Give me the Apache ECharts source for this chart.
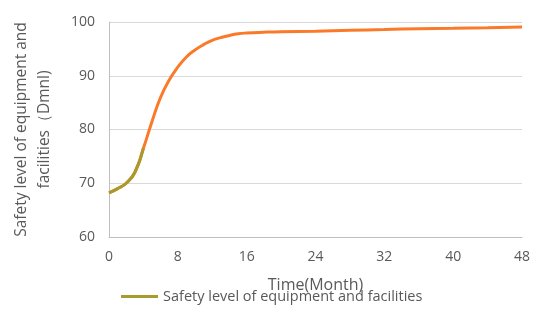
<!DOCTYPE html>
<html><head><meta charset="utf-8">
<script src="https://cdn.jsdelivr.net/npm/echarts@6/dist/echarts.min.js"></script>
<style>html,body{margin:0;padding:0;background:#fff}#c{width:550px;height:320px}</style>
</head><body><div id="c"></div>
<script>
var months = [0,1,2,3,4,5,6,7,8,9,10,11,12,13,14,15,16,18,20,24,28,32,36,40,44,48];
var safety = [68.2,69.0,70.0,72.0,76.5,81.5,86.0,89.2,91.6,93.5,94.8,95.8,96.6,97.1,97.5,97.8,97.95,98.1,98.2,98.3,98.45,98.6,98.75,98.85,98.95,99.05];
var earlyEnd = 4;
var seriesName = 'Safety level of equipment and facilities';
var yName = 'Safety level of equipment and\nfacilities（Dmnl)';
var xName = 'Time(Month)';

var full = months.map(function(m,i){return [m, safety[i]];});
var early = full.filter(function(p){return p[0] <= earlyEnd;});

var chart = echarts.init(document.getElementById('c'));
var font = "'Open Sans', 'Liberation Sans', sans-serif";
chart.setOption({
  animation:false,
  grid:{left:109,right:28,top:22,bottom:83},
  legend:{
    data:[seriesName], bottom:11, left:116, itemWidth:37, itemHeight:3, itemGap:4,
    icon:'rect',
    textStyle:{color:'#595959', fontSize:14.5, fontFamily:font}
  },
  xAxis:{
    type:'value', min:0, max:48, interval:8,
    name:xName, nameLocation:'middle', nameGap:40,
    nameTextStyle:{color:'#595959', fontSize:16, fontFamily:font},
    axisLine:{show:true, lineStyle:{color:'#bfbfbf'}},
    axisTick:{show:false},
    splitLine:{show:false},
    axisLabel:{color:'#595959', fontSize:14, margin:13, fontFamily:font}
  },
  yAxis:{
    type:'value', min:60, max:100, interval:10,
    name:yName, nameLocation:'middle', nameGap:53,
    nameTextStyle:{color:'#595959', fontSize:15.5, lineHeight:23, fontFamily:font},
    axisLine:{show:true, lineStyle:{color:'#bfbfbf'}},
    axisTick:{show:false},
    splitLine:{lineStyle:{color:'#d9d9d9'}},
    axisLabel:{color:'#595959', fontSize:14, margin:14, fontFamily:font}
  },
  series:[
    {name:'orange', type:'line', data:full, smooth:true, showSymbol:false,
     lineStyle:{color:'#FA7A2A', width:3}, itemStyle:{color:'#FA7A2A'}, z:2},
    {name:seriesName, type:'line', data:early, smooth:true, showSymbol:false,
     lineStyle:{color:'#A89A2C', width:3}, itemStyle:{color:'#A89A2C'}, z:3}
  ]
});
</script></body></html>
